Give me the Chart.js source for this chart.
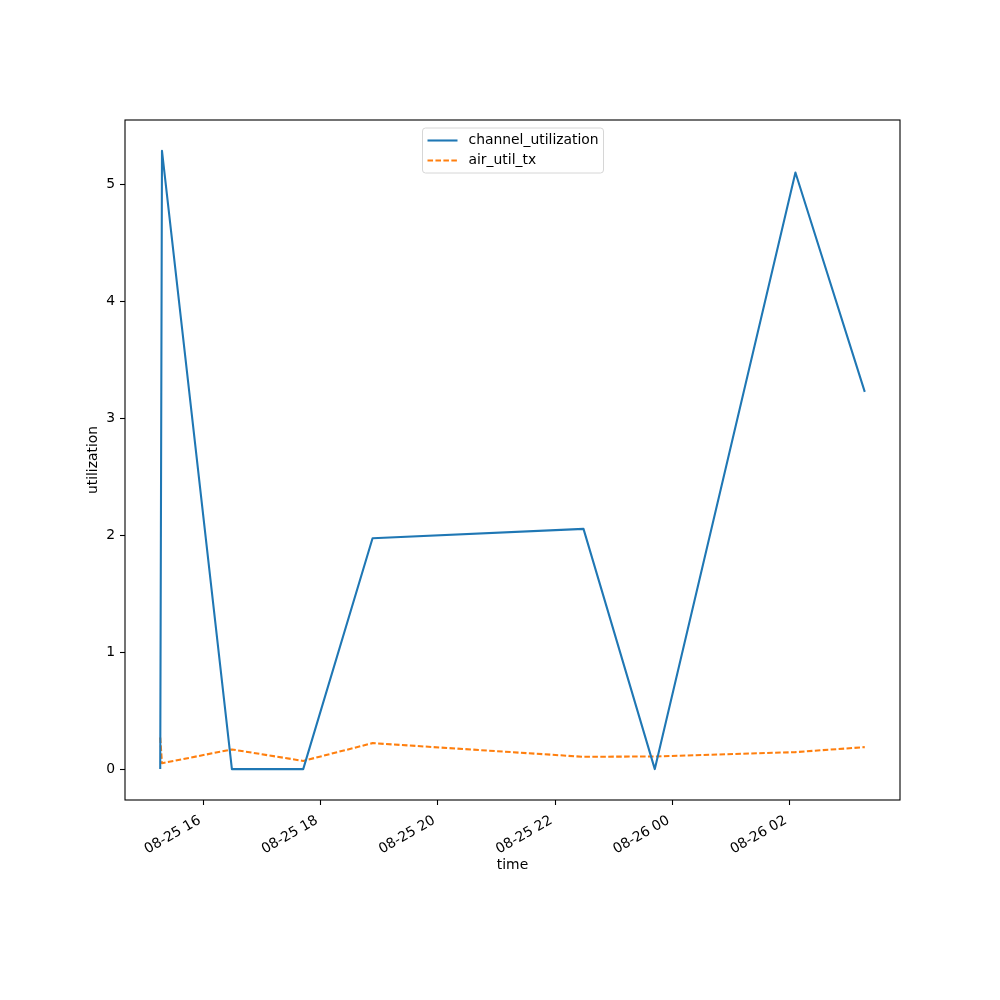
<!DOCTYPE html>
<html><head><meta charset="utf-8">
<script src="https://cdn.jsdelivr.net/npm/chart.js@4/dist/chart.umd.min.js"></script>
<style>html,body{margin:0;padding:0;background:#fff}#wrap{width:1000px;height:1000px}</style>
</head><body><div id="wrap"><canvas id="c" width="1000" height="1000"></canvas></div>
<script>
// ---- data ----
const times = ['08-25 15:15:36','08-25 15:17:24','08-25 16:29','08-25 17:42','08-25 18:53','08-25 22:29','08-25 23:42','08-26 02:06','08-26 03:17'];
const channelUtilization = [0, 5.285, 0, 0, 1.974, 2.054, 0, 5.10, 3.225];
const airUtilTx = [0.27, 0.05, 0.168, 0.07, 0.222, 0.105, 0.108, 0.145, 0.188];
const seriesLabels = ['channel_utilization', 'air_util_tx'];
const xTickLabels = ['08-25 16','08-25 18','08-25 20','08-25 22','08-26 00','08-26 02'];
const yTickValues = [0, 1, 2, 3, 4, 5];
const xTitle = 'time';
const yTitle = 'utilization';

function parseT(s){
  const m = s.match(/(\d+)-(\d+) (\d+)(?::(\d+))?(?::(\d+))?/);
  return Date.UTC(2023, +m[1]-1, +m[2], +m[3], +(m[4]||0), +(m[5]||0));
}
const xs = times.map(parseT);
const xTickValues = xTickLabels.map(parseT);

const xMinD = Math.min(...xs), xMaxD = Math.max(...xs);
const xPad = (xMaxD - xMinD) * 0.05;
const allY = channelUtilization.concat(airUtilTx);
const yMinD = Math.min(...allY), yMaxD = Math.max(...allY);
const yPad = (yMaxD - yMinD) * 0.05;

const FONT = 'DejaVu Sans';
const FS = 13.9;
Chart.defaults.font.family = FONT;
Chart.defaults.font.size = FS;
Chart.defaults.color = '#000';

const blue = '#1f77b4', orange = '#ff7f0e';
const LW = 2.08;

const frame = {
  id: 'frame',
  afterDatasetsDraw(chart){
    const {ctx, chartArea: a} = chart;
    ctx.save();
    ctx.strokeStyle = '#000';
    ctx.lineWidth = 1.1;
    ctx.strokeRect(a.left, a.top, a.right - a.left, a.bottom - a.top);
    ctx.restore();
  }
};

const legendBox = {
  id: 'legendBox',
  afterDraw(chart){
    const {ctx, chartArea: a} = chart;
    const w = 181, h = 45;
    const cx = (a.left + a.right) / 2;
    const x0 = cx - w / 2 + 0.5, y0 = a.top + 8;
    ctx.save();
    ctx.beginPath();
    const r = 3;
    ctx.moveTo(x0 + r, y0);
    ctx.arcTo(x0 + w, y0, x0 + w, y0 + h, r);
    ctx.arcTo(x0 + w, y0 + h, x0, y0 + h, r);
    ctx.arcTo(x0, y0 + h, x0, y0, r);
    ctx.arcTo(x0, y0, x0 + w, y0, r);
    ctx.closePath();
    ctx.fillStyle = 'rgba(255,255,255,0.8)';
    ctx.fill();
    ctx.strokeStyle = '#d6d6d6';
    ctx.lineWidth = 1;
    ctx.stroke();
    chart.data.datasets.forEach((ds, i) => {
      const yy = y0 + 12.5 + i * 20;
      ctx.beginPath();
      ctx.strokeStyle = ds.borderColor;
      ctx.lineWidth = LW;
      ctx.setLineDash(ds.borderDash || []);
      ctx.moveTo(x0 + 5, yy);
      ctx.lineTo(x0 + 35, yy);
      ctx.stroke();
      ctx.setLineDash([]);
      ctx.fillStyle = '#000';
      ctx.font = FS + 'px "' + FONT + '"';
      ctx.textBaseline = 'middle';
      ctx.textAlign = 'left';
      ctx.fillText(ds.label, x0 + 46, yy);
    });
    ctx.restore();
  }
};

new Chart(document.getElementById('c'), {
  type: 'line',
  data: {
    datasets: [
      { label: seriesLabels[0], data: xs.map((x, i) => ({x, y: channelUtilization[i]})),
        borderColor: blue, backgroundColor: blue, borderWidth: LW, pointRadius: 0, tension: 0,
        borderJoinStyle: 'round', fill: false },
      { label: seriesLabels[1], data: xs.map((x, i) => ({x, y: airUtilTx[i]})),
        borderColor: orange, backgroundColor: orange, borderWidth: LW, pointRadius: 0, tension: 0,
        borderDash: [5.55, 2.4], borderCapStyle: 'butt', borderJoinStyle: 'round', fill: false }
    ]
  },
  options: {
    responsive: false,
    animation: false,
    devicePixelRatio: 1,
    layout: { padding: { left: 85, right: 100, top: 120, bottom: 126 } },
    plugins: { legend: { display: false }, title: { display: false }, tooltip: { enabled: false } },
    scales: {
      x: {
        type: 'linear',
        min: xMinD - xPad, max: xMaxD + xPad,
        afterBuildTicks(s){ s.ticks = xTickValues.map(v => ({value: v})); },
        afterFit(s){ s.height = 74; },
        ticks: {
          autoSkip: false, minRotation: 30, maxRotation: 30, padding: 5,
          callback: (v) => { const i = xTickValues.indexOf(v); return i >= 0 ? xTickLabels[i] + ' ' : ''; }
        },
        grid: { drawOnChartArea: false, drawTicks: true, tickLength: 5, tickColor: '#000', tickWidth: 1.1 },
        border: { display: false },
        title: { display: true, text: xTitle, padding: 0, font: { size: FS } }
      },
      y: {
        type: 'linear',
        min: yMinD - yPad, max: yMaxD + yPad,
        afterBuildTicks(s){ s.ticks = yTickValues.map(v => ({value: v})); },
        afterFit(s){ s.width = 40; },
        ticks: { autoSkip: false, padding: 5, callback: (v) => String(v) },
        grid: { drawOnChartArea: false, drawTicks: true, tickLength: 5, tickColor: '#000', tickWidth: 1.1 },
        border: { display: false },
        title: { display: true, text: yTitle, padding: 0, font: { size: FS } }
      }
    }
  },
  plugins: [frame, legendBox]
});
</script>
</body></html>
